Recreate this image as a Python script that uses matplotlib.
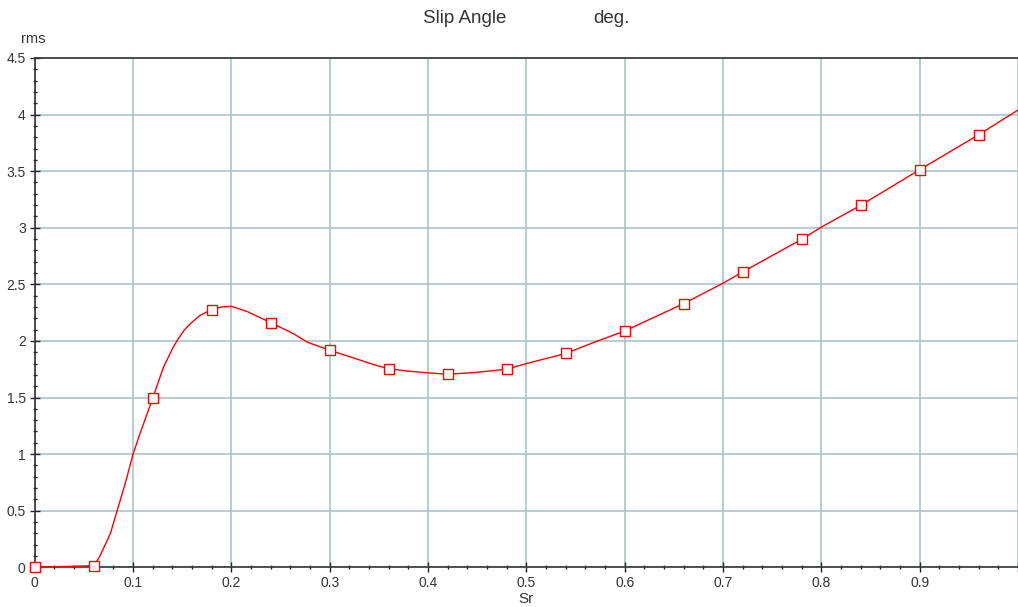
import numpy as np
import matplotlib
matplotlib.use("Agg")
import matplotlib.pyplot as plt
from matplotlib.ticker import MultipleLocator, FuncFormatter

plt.rcParams['font.family'] = ['Liberation Sans', 'DejaVu Sans']

# curve (Sr vs rms slip angle)
sr = [0.0, 0.06, 0.066, 0.077, 0.084, 0.092, 0.1, 0.107, 0.12, 0.131,
      0.141, 0.146, 0.152, 0.158, 0.168, 0.18, 0.19, 0.2, 0.216, 0.24, 0.263,
      0.277, 0.30, 0.321, 0.345, 0.36, 0.378, 0.40, 0.42, 0.446, 0.48,
      0.50, 0.54, 0.568, 0.60, 0.66, 0.70, 0.72, 0.78, 0.80, 0.84,
      0.90, 0.96, 1.0]
slip = [0.0, 0.014, 0.094, 0.30, 0.506, 0.74, 1.0, 1.18, 1.494, 1.77,
        1.947, 2.02, 2.095, 2.15, 2.225, 2.277, 2.30, 2.306, 2.26, 2.162, 2.065,
        1.99, 1.918, 1.859, 1.79, 1.755, 1.735, 1.718, 1.706, 1.72, 1.75,
        1.80, 1.889, 1.985, 2.088, 2.33, 2.51, 2.61, 2.898, 3.006, 3.198,
        3.513, 3.822, 4.04]

# square markers every 0.06
sr_marks = [0.0, 0.06, 0.12, 0.18, 0.24, 0.30, 0.36, 0.42, 0.48, 0.54,
            0.60, 0.66, 0.72, 0.78, 0.84, 0.90, 0.96]
slip_marks = [0.0, 0.014, 1.494, 2.277, 2.162, 1.918, 1.755, 1.706, 1.75, 1.889,
              2.088, 2.33, 2.61, 2.898, 3.198, 3.513, 3.822]

fig = plt.figure(figsize=(10.18, 6.07), dpi=100)
ax = fig.add_axes([0.0341, 0.0654, 0.9659, 0.8391])

ax.plot(sr, slip, '-', color='#ff0000', linewidth=1.0, zorder=3)
ax.plot(sr_marks, slip_marks, 's', color='#ff0000', markerfacecolor='white',
        markersize=6.5, markeredgewidth=1.0, zorder=4, clip_on=False)

ax.set_xlim(0, 1.0)
ax.set_ylim(0, 4.5)

ax.xaxis.set_major_locator(MultipleLocator(0.1))
ax.xaxis.set_minor_locator(MultipleLocator(0.02))
ax.yaxis.set_major_locator(MultipleLocator(0.5))
ax.yaxis.set_minor_locator(MultipleLocator(0.1))
ax.xaxis.set_major_formatter(FuncFormatter(lambda v, p: '' if v > 0.95 else '%g' % round(v, 3)))
ax.yaxis.set_major_formatter(FuncFormatter(lambda v, p: '%g' % round(v, 3)))

ax.grid(True, which='major', color='#a8c3c8', linewidth=1.2)
ax.set_axisbelow(True)

ax.tick_params(which='major', direction='inout', length=7, width=1.0,
               colors='#222222', labelsize=10)
ax.tick_params(which='minor', direction='inout', length=3.5, width=1.0,
               colors='#222222')
ax.tick_params(axis='x', pad=3)
ax.tick_params(axis='y', pad=3)
ax.tick_params(axis='both', labelcolor='#333333')

for s in ['left', 'bottom', 'top']:
    ax.spines[s].set_color('#333333')
    ax.spines[s].set_linewidth(1.2)
ax.spines['right'].set_visible(False)

ax.set_xlabel('Sr', fontsize=11, color='#333333', labelpad=1)
fig.text(0.0203, 0.925, 'rms', fontsize=10.5, color='#333333', ha='left', va='bottom')
fig.text(0.4155, 0.97, 'Slip Angle', fontsize=13.5, color='#333333', ha='left', va='center')
fig.text(0.5825, 0.97, 'deg.', fontsize=13.5, color='#333333', ha='left', va='center')

plt.savefig('out.png', dpi=100)
plt.close()
